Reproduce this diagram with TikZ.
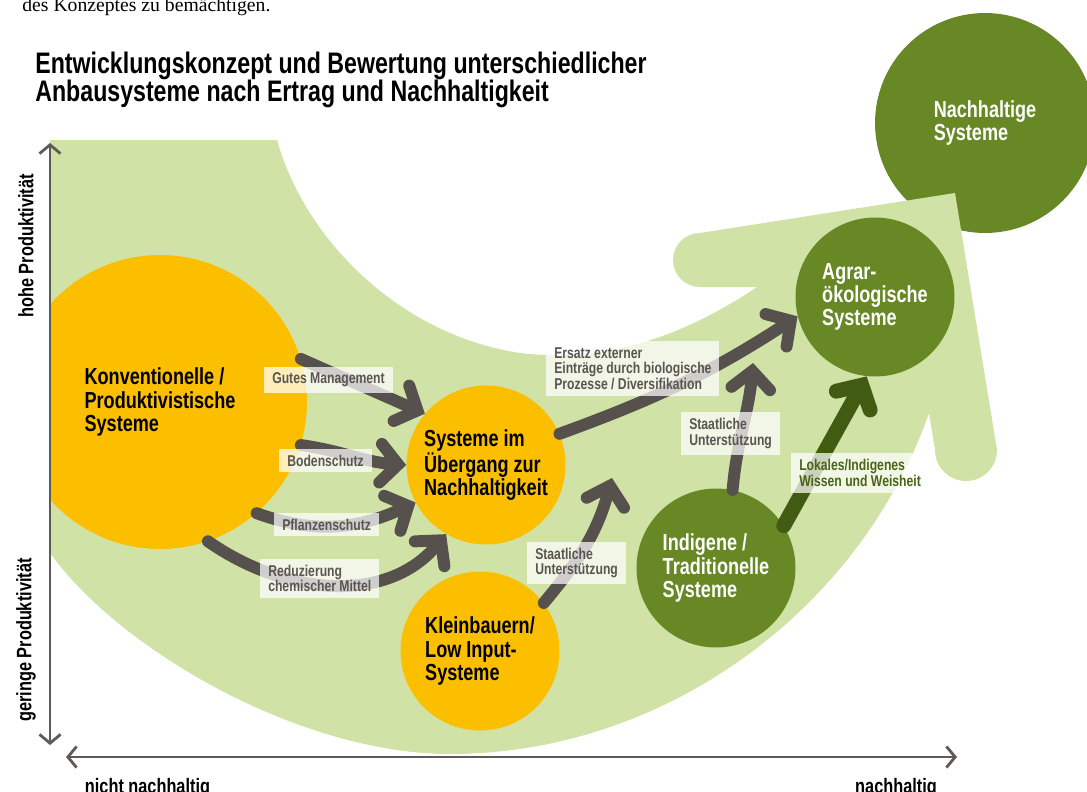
\documentclass[tikz,border=0pt]{standalone}
\usepackage{fontspec}
\setmainfont{Liberation Serif}
\newfontfamily\condsans{Liberation Sans}[FakeStretch=0.78]
\usetikzlibrary{arrows.meta}
\definecolor{paleleaf}{HTML}{D1E2A6}
\definecolor{sunyellow}{HTML}{FBBF00}
\definecolor{leafgreen}{HTML}{688826}
\definecolor{darkleaf}{HTML}{415C12}
\definecolor{arrowgray}{HTML}{57514E}
\definecolor{axisgray}{HTML}{5F5A58}
\definecolor{labelgray}{HTML}{5A5552}
\definecolor{lokalgreen}{HTML}{4A6518}

\begin{document}
\begin{tikzpicture}[x=0.02cm, y=0.02cm,
    yellowsys/.style={circle, fill=sunyellow, minimum size=3.18cm, inner sep=0pt, align=left,
      font=\condsans\bfseries\fontsize{13.2}{13.3}\selectfont},
    greensys/.style={yellowsys, fill=leafgreen, text=white},
    tag/.style={fill=white, fill opacity=0.72, text opacity=1, text=labelgray, align=left, anchor=west,
      inner xsep=4.5pt, inner ysep=3.5pt, font=\condsans\bfseries\fontsize{8.9}{8.9}\selectfont},
    flow/.style={draw=arrowgray, line width=6.8pt, line cap=round,
      -{Straight Barb[line cap=round, line join=miter, length=10pt, width=22pt]}},
    axis/.style={draw=axisgray, line width=1.6pt, {Straight Barb[length=5pt, width=12pt]}-{Straight Barb[length=5pt, width=12pt]}},
    axislabel/.style={text=black, font=\condsans\bfseries\fontsize{11.9}{12}\selectfont}]
  \useasboundingbox (0,0) rectangle (1087,-791);

  % text above
  \node[anchor=base west, inner sep=0pt, font=\fontsize{11.2}{13}\selectfont] (prev) at (22,-11) {des Konzeptes zu bemächtigen.};
  \node[anchor=north west, inner sep=0pt, align=left, font=\condsans\bfseries\fontsize{16.9}{16}\selectfont] (title) at (35,-52)
    {Entwicklungskonzept und Bewertung unterschiedlicher\\Anbausysteme nach Ertrag und Nachhaltigkeit};

  % goal
  \node[greensys, minimum size=4.4cm] (nachh) at (985,-123) {Nachhaltige\\Systeme};

  % big arrow
  \begin{scope}
    \clip (50,0) rectangle (1087,-791);
    \fill[paleleaf] (50,-140) -- (277,-140) .. controls (305,-240) and (400,-335) .. (520,-353)
      .. controls (620,-365) and (700,-325) .. (757,-287) -- (700,-287)
      arc[start angle=270, end angle=90, radius=27] -- (955,-193) -- (997,-450)
      arc[start angle=0, end angle=-180, radius=31] -- (929,-413)
      .. controls (860,-610) and (665,-754) .. (450,-754) .. controls (300,-754) and (120,-650) .. (50,-553) -- cycle;
    \node[yellowsys, minimum size=5.88cm] (konv) at (160,-402) {Konventionelle /\\Produktivistische\\Systeme};
  \end{scope}

  % systems
  \node[yellowsys] (trans) at (486,-465) {Systeme im\\Übergang zur\\Nachhaltigkeit};
  \node[yellowsys] (klein) at (480,-651) {Kleinbauern/\\Low Input-\\Systeme};
  \node[greensys] (indig) at (716,-568) {Indigene /\\Traditionelle\\Systeme};
  \node[greensys] (agrar) at (875,-297) {Agrar-\\ökologische\\Systeme};

  % paths
  \coordinate (jointA) at (612,-478);
  \coordinate (jointB) at (753,-363);
  \draw[flow] (konv.17) -- (trans.140);
  \draw[flow] (konv.-17) to[out=-8, in=176] (trans.180);
  \draw[flow] (konv.-49) to[out=-20, in=205] (trans.208);
  \draw[flow] (konv.-71) to[out=-35, in=230] (trans.240);
  \draw[flow] (trans.23) to[out=20, in=213] (agrar.194);
  \draw[flow] (klein.37) to[out=50, in=-105] (jointA);
  \draw[flow] (indig.78) to[out=85, in=-95] (jointB);
  \draw[flow, draw=darkleaf, line width=8.5pt] (indig.32) -- (agrar.264);

  % labels
  \node[tag] (lgutes) at (264,-380) {Gutes Management};
  \node[tag] (lboden) at (279,-460.5) {Bodenschutz};
  \node[tag] (lpflanz) at (274,-524.5) {Pflanzenschutz};
  \node[tag] (lreduz) at (260,-578.5) {Reduzierung\\chemischer Mittel};
  \node[tag] (lstaat1) at (527,-563) {Staatliche\\Unterstützung};
  \node[tag] (lersatz) at (546,-368.5) {Ersatz externer\\Einträge durch biologische\\Prozesse / Diversifikation};
  \node[tag] (lstaat2) at (681,-433.5) {Staatliche\\Unterstützung};
  \node[tag, text=lokalgreen] (llokal) at (791,-473) {Lokales/Indigenes\\Wissen und Weisheit};

  % axes
  \coordinate (ytop) at (50,-143);
  \coordinate (ybot) at (50,-745);
  \coordinate (xleft) at (66,-757);
  \coordinate (xright) at (957,-757);
  \draw[axis] (ybot) -- (ytop);
  \draw[axis] (xleft) -- (xright);
  \node[axislabel, rotate=90] (yhigh) at (26,-246) {hohe Produktivität};
  \node[axislabel, rotate=90] (ylow) at (26,-640) {geringe Produktivität};
  \node[axislabel, anchor=base] (xlow) at (147.5,-793) {nicht nachhaltig};
  \node[axislabel, anchor=base] (xhigh) at (896,-793) {nachhaltig};
\end{tikzpicture}
\end{document}
